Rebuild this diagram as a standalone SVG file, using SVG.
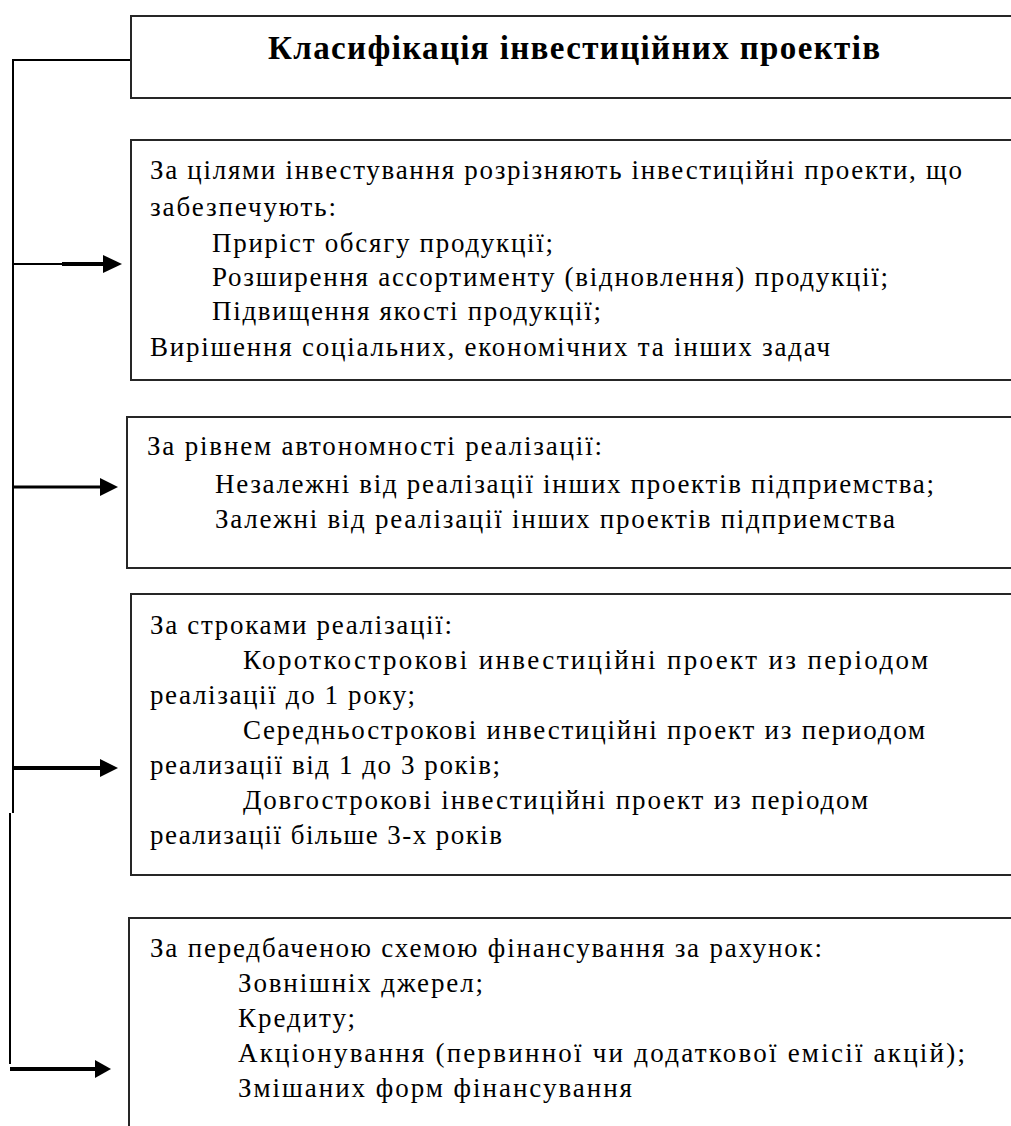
<svg xmlns="http://www.w3.org/2000/svg" width="1011" height="1126" viewBox="0 0 1011 1126">
<style>
.box{fill:#fff;stroke:#262626;stroke-width:2}
.t{font-family:"Liberation Serif","Times New Roman",serif;font-size:27px;fill:#000}
.title{font-family:"Liberation Serif","Times New Roman",serif;font-size:33px;font-weight:bold;fill:#000}
.ln{fill:none;stroke:#000;stroke-width:2}
.ah{fill:#000;stroke:none}
</style>
<rect width="1011" height="1126" fill="#fff"/>
<g id="connectors">
<polyline class="ln" points="133,60 13,60 13,813"/>
<line class="ln" x1="10" y1="813" x2="10" y2="1064"/>
<line class="ln" x1="13" y1="264" x2="63" y2="264"/>
<line x1="62" y1="264" x2="105" y2="264" stroke="#000" stroke-width="4"/>
<polygon class="ah" points="103,255 122,264 103,273"/>
<line x1="13" y1="487" x2="102" y2="487" stroke="#000" stroke-width="3"/>
<polygon class="ah" points="100,478 118,487 100,496"/>
<line x1="12" y1="768" x2="102" y2="768" stroke="#000" stroke-width="4"/>
<polygon class="ah" points="100,759 118,768 100,777"/>
<line x1="10" y1="1069" x2="97" y2="1069" stroke="#000" stroke-width="4"/>
<polygon class="ah" points="95,1060 111,1069 95,1078"/>
</g>
<g id="title">
<rect class="box" x="131" y="16" width="900" height="82"/>
<text class="title" x="268" y="59" textLength="612">Класифікація інвестиційних проектів</text>
</g>
<g id="node-goals">
<rect class="box" x="131" y="140" width="900" height="240"/>
<text class="t" x="150" y="179" textLength="812">За цілями інвестування розрізняють інвестиційні проекти, що</text>
<text class="t" x="150" y="216" textLength="186">забезпечують:</text>
<text class="t" x="212" y="252" textLength="341">Приріст обсягу продукції;</text>
<text class="t" x="212" y="286" textLength="676">Розширення ассортименту (відновлення) продукції;</text>
<text class="t" x="212" y="320" textLength="389">Підвищення якості продукції;</text>
<text class="t" x="150" y="356" textLength="680">Вирішення соціальних, економічних та інших задач</text>
</g>
<g id="node-autonomy">
<rect class="box" x="127" y="417" width="904" height="151"/>
<text class="t" x="147" y="455" textLength="455">За рівнем автономності реалізації:</text>
<text class="t" x="215" y="493" textLength="719">Незалежні від реалізації інших проектів підприемства;</text>
<text class="t" x="215" y="528" textLength="680">Залежні від реалізації інших проектів підприемства</text>
</g>
<g id="node-terms">
<rect class="box" x="131" y="594" width="900" height="281"/>
<text class="t" x="150" y="634" textLength="302">За строками реалізації:</text>
<text class="t" x="243" y="669" textLength="685">Короткострокові инвестиційні проект из періодом</text>
<text class="t" x="150" y="704" textLength="265">реалізації до 1 року;</text>
<text class="t" x="243" y="739" textLength="682">Середньострокові инвестиційні проект из периодом</text>
<text class="t" x="150" y="774" textLength="350">реализації від 1 до 3 років;</text>
<text class="t" x="243" y="809" textLength="625">Довгострокові інвестиційні проект из періодом</text>
<text class="t" x="150" y="844" textLength="352">реализації більше 3-х років</text>
</g>
<g id="node-financing">
<rect class="box" x="129" y="918" width="902" height="240"/>
<text class="t" x="150" y="957" textLength="672">За передбаченою схемою фінансування за рахунок:</text>
<text class="t" x="238" y="992" textLength="245">Зовнішніх джерел;</text>
<text class="t" x="238" y="1027" textLength="117">Кредиту;</text>
<text class="t" x="238" y="1062" textLength="727">Акціонування (первинної чи додаткової емісії акцій);</text>
<text class="t" x="238" y="1097" textLength="394">Змішаних форм фінансування</text>
</g>
</svg>
